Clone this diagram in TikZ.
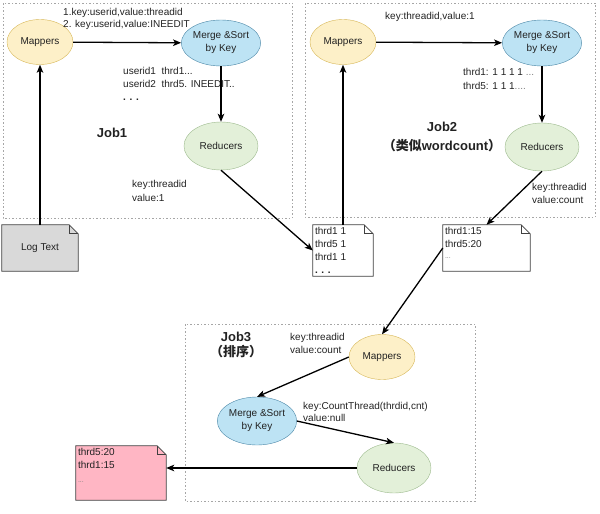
\documentclass[tikz,border=0pt]{standalone}
\usepackage{fontspec}
\setmainfont{Liberation Sans}
\newfontfamily\cjk{Noto Sans CJK SC}
\usetikzlibrary{positioning}
\usetikzlibrary{shapes.geometric}
\usetikzlibrary{arrows.meta}
\usetikzlibrary{backgrounds}

\definecolor{mapfill}{HTML}{FDF0C8}
\definecolor{mapline}{HTML}{D6B656}
\definecolor{mrgfill}{HTML}{BDE3F4}
\definecolor{mrgline}{HTML}{4A86A6}
\definecolor{redfill}{HTML}{E3F0D9}
\definecolor{redline}{HTML}{9DBA8E}
\definecolor{logfill}{HTML}{D9D9D9}
\definecolor{pinkfill}{HTML}{FFB6C4}
\definecolor{ink}{HTML}{222222}

\tikzset{
  mapper/.style={ellipse, draw=mapline, fill=mapfill, minimum width=66pt, minimum height=45pt, inner sep=0pt},
  merger/.style={ellipse, draw=mrgline, fill=mrgfill, minimum width=75pt, minimum height=46pt, inner sep=0pt, align=center},
  reducer/.style={ellipse, draw=redline, fill=redfill, minimum width=74pt, minimum height=48pt, inner sep=0pt},
  doc/.style={rectangle, inner sep=0pt},
  doctext/.style={anchor=north west, inner sep=2pt, align=left, font=\fontsize{10}{13}\selectfont},
  note/.style={anchor=north west, inner sep=0pt, align=left},
  jobname/.style={align=center, font=\bfseries\fontsize{13}{19}\selectfont},
  jobbox/.style={draw=gray!70, line width=0.8pt, dash pattern=on 1.5pt off 2pt},
  docline/.style={draw=black!75, line width=0.8pt},
  flow/.style={-{Stealth[length=8pt,width=6.5pt,inset=2pt]}, line width=1.3pt, black}
}

% outline of a note with a folded corner
\newcommand{\docfold}[2]{%
  \filldraw[docline, fill=#2] (#1.south west) -- (#1.north west) -- ([xshift=-9pt]#1.north east)
    -- ([yshift=-9pt]#1.north east) -- (#1.south east) -- cycle;
  \draw[docline] ([xshift=-9pt]#1.north east) |- ([yshift=-9pt]#1.north east);}

\begin{document}
\begin{tikzpicture}[x=1pt, y=-1pt, every node/.style={text=ink, font=\fontsize{10}{13}\selectfont}]
\useasboundingbox (0,0) rectangle (600,514);

% Job1
\node[mapper] (mapA) at (40,42) {Mappers};
\node[merger] (mrgA) at (221,43) {Merge \&Sort\\by Key};
\node[reducer] (redA) at (221,146) {Reducers};
\node[doc, minimum width=76pt, minimum height=46pt] (log) at (40,248) {Log Text};
\node[jobname] (jobA) at (112,133) {Job1};
\node[note, font=\fontsize{10}{12}\selectfont] (kvA) at (63,8) {1.key:userid,value:threadid\\2. key:userid,value:INEEDIT};
\node[note] (grpA) at (123,67) {userid1\ \ thrd1...\\userid2\ \ thrd5. INEEDIT..\\\textbf{. . .}};
\node[note, font=\fontsize{10}{14}\selectfont] (outA) at (132,180) {key:threadid\\value:1};

% Job2
\node[mapper] (mapB) at (343,42) {Mappers};
\node[merger] (mrgB) at (542,43) {Merge \&Sort\\by Key};
\node[reducer] (redB) at (542,147) {Reducers};
\node[jobname] (jobB) at (442,136.5) {Job2\\{\cjk （类似}wordcount{\cjk ）}};
\node[note] (kvB) at (385,12) {key:threadid,value:1};
\node[note, font=\fontsize{10}{14}\selectfont] (grpB) at (463,68) {thrd1: 1 1 1 1 {\color{gray}...}\\thrd5: 1 1 1{\color{gray}....}};
\node[note] (outB) at (532,183) {key:threadid\\value:count};

% intermediate files
\node[doc, minimum width=60pt, minimum height=51pt] (fileA) at (343,250.5) {};
\node[doctext] (fileAtxt) at (fileA.north west) {thrd1 1\\thrd5 1\\thrd1 1\\\textbf{. . .}};
\node[doc, minimum width=87pt, minimum height=46pt] (fileB) at (486.5,248) {};
\node[doctext] (fileBtxt) at (fileB.north west) {thrd1:15\\thrd5:20\\[-2pt]{\color{gray}\scriptsize ...}};

% Job3
\node[mapper] (mapC) at (382,357) {Mappers};
\node[merger, minimum width=76pt, minimum height=48pt] (mrgC) at (257,421) {Merge \&Sort\\by Key};
\node[reducer, minimum height=50pt] (redC) at (394,468) {Reducers};
\node[jobname, font=\bfseries\fontsize{13}{15}\selectfont] (jobC) at (236,344.5) {Job3\\{\cjk （排序）}};
\node[note] (kvC) at (290,333) {key:threadid\\value:count};
\node[note, font=\fontsize{10}{12}\selectfont] (cntC) at (303,402) {key:CountThread(thrdid,cnt)\\value:null};
\node[doc, minimum width=90pt, minimum height=54pt] (result) at (121,473) {};
\node[doctext] (resulttxt) at (result.north west) {thrd5:20\\thrd1:15\\[1pt]{\color{gray}\scriptsize ...}};

\begin{scope}[on background layer]
  \draw[jobbox] (3,3) rectangle (292,218);
  \draw[jobbox] (305,3) rectangle (595,217);
  \draw[jobbox] (185,324) rectangle (475,501);
  \docfold{log}{logfill}
  \docfold{fileA}{white}
  \docfold{fileB}{white}
  \docfold{result}{pinkfill}
\end{scope}

\path[flow]
  (log) edge (mapA)
  (mapA) edge (mrgA)
  (mrgA) edge (redA)
  (redA.south) edge (fileA.west)
  (fileA) edge (mapB)
  (mapB) edge (mrgB)
  (mrgB) edge (redB)
  (redB.south) edge (fileB.north)
  (fileB.west) edge (mapC.north)
  (mapC.west) edge (mrgC.north)
  (mrgC.east) edge (redC.north)
  (redC.west) edge (redC.west -| result.east)
  ;
\end{tikzpicture}
\end{document}
